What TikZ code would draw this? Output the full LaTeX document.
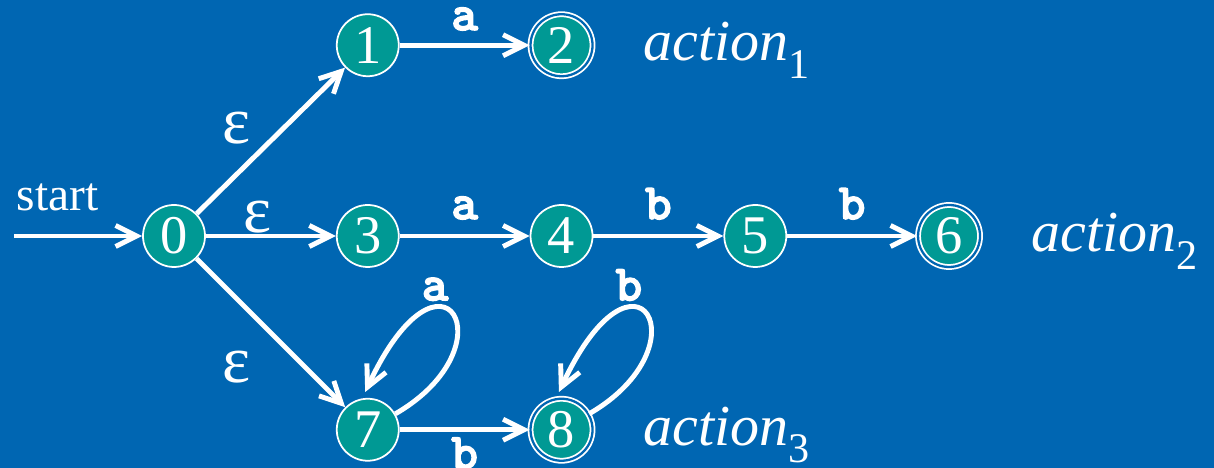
\documentclass[tikz,border=0pt]{standalone}
\usepackage{fontspec}
\setmainfont{Liberation Serif}
\newfontfamily\codefont{lmmonolt10-bold.otf}[FakeBold=2.5]
\usetikzlibrary{arrows.meta, positioning}
\definecolor{slideblue}{RGB}{0,102,178}
\definecolor{stateteal}{RGB}{0,153,148}
\newcommand{\actsub}[1]{\raisebox{-10pt}{\upshape\fontsize{24}{24}\selectfont #1}}
\tikzset{
  state/.style={circle, fill=stateteal, draw=white, line width=1pt,
    minimum size=1.24cm, inner sep=0pt, text=white,
    font=\fontsize{31}{31}\selectfont},
  accept/.style={state, double=slideblue, double distance=1.3pt},
  edge/.style={-{Straight Barb[length=12pt,width=12pt]}, line width=2.8pt, draw=white},
  lbl/.style={text=white, inner sep=0pt, font=\fontsize{27}{27}\selectfont},
  sym/.style={text=white, inner sep=0pt, font=\codefont\fontsize{29}{29}\selectfont},
  eps/.style={text=white, inner sep=0pt, font=\fontsize{38}{38}\selectfont},
  act/.style={text=white, inner sep=0pt, font=\itshape\fontsize{33}{36}\selectfont},
}

\begin{document}
\begin{tikzpicture}[node distance=2.6cm]
  \useasboundingbox (0,0) rectangle (24.28,9.36);
  \fill[slideblue] (0,0) rectangle (24.28,9.36);

  % states
  \node[state] (s0) at (3.48,4.64) {0};
  \node[state, right=of s0] (s3) {3};
  \node[state, above=2.54cm of s3] (s1) {1};
  \node[accept, right=of s1] (s2) {2};
  \node[state, right=of s3] (s4) {4};
  \node[state, right=of s4] (s5) {5};
  \node[accept, right=of s5] (s6) {6};
  \node[state, below=of s3] (s7) {7};
  \node[accept, right=of s7] (s8) {8};
  \coordinate (begin) at (0.28,4.64);

  % actions
  \node[act, right=1cm of s2, yshift=-3pt] (act1) {action\actsub{1}};
  \node[act, right=1cm of s6, yshift=-3pt] (act2) {action\actsub{2}};
  \node[act, right=1cm of s8, yshift=-3pt] (act3) {action\actsub{3}};

  % transitions
  \draw[edge] (begin) -- (s0) node[lbl, pos=0.34, above=13pt] {start};
  \draw[edge] (s0) -- (s1) node[eps, midway, left=10pt, yshift=7pt] {ε};
  \draw[edge] (s0) -- (s3) node[eps, pos=0.4, above] {ε};
  \draw[edge] (s0) -- (s7) node[eps, midway, below left=9pt and 10pt] {ε};
  \draw[edge] (s1) -- (s2) node[sym, midway, above=7pt] {a};
  \draw[edge] (s3) -- (s4) node[sym, midway, above=8pt] {a};
  \draw[edge] (s4) -- (s5) node[sym, midway, above=8pt] {b};
  \draw[edge] (s5) -- (s6) node[sym, midway, above=8pt] {b};
  \draw[edge] (s7) -- (s8) node[sym, midway, below=3pt] {b};
  \draw[edge, shorten >=4pt] (s7.30) to[out=30, in=65, out distance=2.7cm, in distance=3.8cm]
    node[sym, pos=0.65, above=4pt] {a} (s7.100);
  \draw[edge, shorten >=4pt] (s8.30) to[out=30, in=65, out distance=2.7cm, in distance=3.8cm]
    node[sym, pos=0.65, above=4pt] {b} (s8.100);
\end{tikzpicture}
\end{document}
